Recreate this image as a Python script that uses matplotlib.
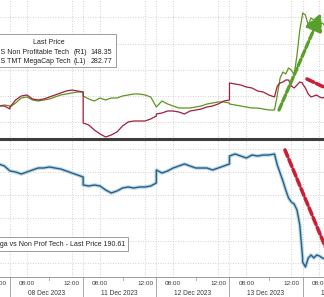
import matplotlib
matplotlib.use('Agg')
import matplotlib.pyplot as plt
from matplotlib.lines import Line2D
from matplotlib.patches import Rectangle, FancyArrowPatch

plt.rcParams['font.family'] = ['Liberation Sans', 'DejaVu Sans']

# sessions on the axis (07 Dec and 14 Dec only partly in view)
day_labels = ['07 Dec 2023', '08 Dec 2023', '11 Dec 2023', '12 Dec 2023',
              '13 Dec 2023', '14 Dec 2023']
half_hours = ['06:30', '07:00', '07:30', '08:00', '08:30', '09:00', '09:30',
              '10:00', '10:30', '11:00', '11:30', '12:00', '12:30', '13:00']
fed_quarters = ['10:45', '11:00', '11:15', '11:30', '11:45', '12:00',
                '12:15', '12:30', '12:45', '13:00']
open_quarters = ['06:30', '06:45', '07:00', '07:15', '07:30', '07:45',
                 '08:00', '08:15', '08:30']

stamps = ([(0, t) for t in ['12:00', '12:30', '13:00']]
          + [(1, t) for t in half_hours]
          + [(2, t) for t in half_hours]
          + [(3, t) for t in half_hours]
          + [(4, t) for t in half_hours[:9]] + [(4, t) for t in fed_quarters]
          + [(5, t) for t in open_quarters])

# GS TMT MegaCap Tech (L1)
megacap = [281.4, 281.4, 281.1,
           281.3, 282.0, 282.4, 282.5, 282.1, 282.0, 282.1, 282.3, 282.5, 282.7, 282.9, 283.0, 282.9, 282.8,
           279.7, 279.5, 279.0, 278.6, 278.3, 278.5, 278.8, 279.4, 279.8, 279.9, 279.9, 279.9, 280.1, 280.4,
           280.6, 280.7, 280.9, 280.9, 280.8, 280.6, 280.9, 281.0, 281.1, 281.3, 281.4, 281.6, 281.9, 282.0,
           283.7, 283.6, 283.5, 283.3, 283.2, 282.9, 282.8, 282.5, 282.3,
           283.4, 283.7, 283.8, 284.0, 284.0, 283.4, 283.2, 283.5, 283.8, 283.7,
           283.6, 283.2, 282.6, 282.3, 282.4, 282.5, 282.3, 282.2, 282.3]

# GS Non Profitable Tech (R1)
nonprof = [140.4, 140.5, 140.4,
           140.3, 140.7, 141.2, 141.3, 141.0, 140.9, 141.0, 141.1, 141.3, 141.5, 141.6, 141.7, 141.8, 141.8,
           141.4, 141.1, 140.9, 141.2, 141.0, 141.2, 141.2, 141.4, 141.5, 141.6, 141.6, 141.5, 141.3, 140.3,
           140.3, 140.9, 140.6, 140.4, 140.2, 140.2, 140.2, 140.3, 140.4, 140.6, 140.7, 140.8, 140.8, 140.7,
           140.6, 140.5, 140.4, 140.3, 140.2, 140.2, 140.1, 140.0, 140.0,
           141.5, 143.2, 143.8, 143.6, 144.2, 144.0, 143.5, 145.5, 148.0, 149.6,
           149.7, 149.5, 148.5, 149.2, 149.0, 148.8, 148.6, 148.7, 148.4]

# MegaCap vs Non Prof Tech ratio
ratio = [200.1, 199.9, 199.4,
         199.4, 199.3, 199.1, 199.3, 199.5, 199.7, 199.7, 199.8, 199.7, 199.6, 199.4, 199.2, 199.0, 198.8,
         198.0, 197.9, 198.0, 197.9, 197.5, 197.2, 197.4, 197.7, 197.8, 197.7, 197.8, 197.8, 197.9, 198.2,
         199.5, 199.2, 199.4, 199.7, 199.9, 200.1, 199.9, 199.7, 199.7, 199.7, 199.5, 199.7, 199.9, 200.1,
         200.9, 201.1, 200.9, 200.7, 201.0, 200.9, 201.0, 201.0, 201.1,
         200.0, 199.2, 198.4, 197.5, 196.7, 196.3, 196.1, 195.5, 194.0, 190.7,
         190.3, 189.8, 190.7, 191.0, 190.7, 191.0, 190.9, 190.7, 190.6]

SESSION = 6.5  # hours per session, 06:30 - 13:00
XLIM = (5.61, 34.40)


def sess_x(day, hhmm):
    h, m = hhmm.split(':')
    return day * SESSION + int(h) + int(m) / 60 - 6.5


x = [sess_x(d, t) for d, t in stamps]

W, H = 324, 297
fx = lambda px: px / W
fy = lambda py: 1 - py / H

fig = plt.figure(figsize=(W / 100, H / 100), dpi=100)
ax_top = fig.add_axes([0, fy(139), 1, 139 / H])
ax_bot = fig.add_axes([0, fy(277), 1, 138 / H])

vgrid = []
for d in range(6):
    vgrid += [sess_x(d, '06:30'), sess_x(d, '08:00'), sess_x(d, '12:00')]
vgrid = [v for v in vgrid if XLIM[0] <= v <= XLIM[1]]

for ax in (ax_top, ax_bot):
    ax.set_xticks(vgrid)
    ax.set_xlim(*XLIM)
    ax.grid(True, color='#c2c2c2', linestyle=(0, (1, 2)), lw=0.6)
    ax.tick_params(length=0, labelbottom=False, labelleft=False)
    for s in ax.spines.values():
        s.set_visible(False)

# top panel: two prices on own scales
ax_top.set_yticks([149.3, 146.6, 144.0, 141.4, 138.8])
ax_top.set_ylim(137.1, 151)
ax_top.plot(x, nonprof, color='#5f9420', lw=0.9)
ax_red = ax_top.twinx()
ax_red.plot(x, megacap, color='#a31d3c', lw=0.9)
ax_red.set_ylim(278.1, 292)
ax_red.set_xlim(*XLIM)
ax_red.axis('off')

# bottom panel: ratio
ax_bot.set_yticks([201.6, 199.3, 197.0, 194.7, 192.4, 190.2])
ax_bot.set_ylim(188.8, 202.6)
ax_bot.plot(x, ratio, color='#b8d8ec', lw=2.6, solid_capstyle='round')
ax_bot.plot(x, ratio, color='#2b5f80', lw=1.0)
ax_bot.set_xlim(*XLIM)
ax_bot.spines['bottom'].set_visible(True)
ax_bot.spines['bottom'].set_color('#9a9a9a')
ax_bot.spines['bottom'].set_linewidth(0.7)

xt = ax_bot.get_xaxis_transform()
for d in range(6):
    for t in ['08:00', '12:00']:
        ax_bot.text(sess_x(d, t), -0.045, t, transform=xt, ha='center', va='center',
                    fontsize=4.6, color='#3a3a3a')
    ax_bot.text(d * SESSION + SESSION / 2, -0.118, day_labels[d], transform=xt,
                ha='center', va='center', fontsize=4.8, color='#3a3a3a')
    ax_bot.plot([sess_x(d, '10:00')] * 2, [0, -0.022], transform=xt,
                color='#a0a0a0', lw=0.6, clip_on=False)
    if d > 0:
        ax_bot.plot([d * SESSION] * 2, [0, -0.16], transform=xt,
                    color='#a8a8a8', lw=0.7, clip_on=False)
ax_bot.set_xlim(*XLIM)

# thick panel separator
fig.add_artist(Line2D([0, 1], [fy(139), fy(139)], transform=fig.transFigure,
                      color='#3d3d3d', lw=2.2, zorder=3))

# legend boxes
fig.add_artist(Rectangle((fx(-4), fy(67)), 120 / W, 33 / H, transform=fig.transFigure,
                         fc='white', ec='#9c9c9c', lw=0.7, zorder=5))
fig.text(fx(49), fy(43), 'Last Price', ha='center', va='center', fontsize=5.0,
         color='#222222', zorder=6)
rows = [('GS Non Profitable Tech', '(R1)', '148.35', 52),
        ('GS TMT MegaCap Tech', '(L1)', '282.77', 61)]
for name, tag, val, py in rows:
    fig.text(fx(-5.4), fy(py), name, ha='left', va='center', fontsize=5.0, color='#222222', zorder=6)
    fig.text(fx(73.5), fy(py), tag, ha='left', va='center', fontsize=5.0, color='#222222', zorder=6)
    fig.text(fx(112), fy(py), val, ha='right', va='center', fontsize=5.0, color='#222222', zorder=6)

fig.add_artist(Rectangle((fx(-4), fy(251)), 132 / W, 14 / H, transform=fig.transFigure,
                         fc='white', ec='#9c9c9c', lw=0.7, zorder=5))
fig.text(fx(-9.7), fy(244), 'Mega vs Non Prof Tech - Last Price 190.61', ha='left',
         va='center', fontsize=5.0, color='#222222', zorder=6)

# dashed trend arrows
fig.add_artist(FancyArrowPatch((fx(279), fy(110)), (fx(321), fy(13)), transform=fig.transFigure,
                               arrowstyle='-|>,head_length=10,head_width=5', mutation_scale=1,
                               shrinkA=0, shrinkB=0, lw=2.4, linestyle=(0, (2, 0.9)),
                               color='#58a02b', zorder=4))
fig.add_artist(FancyArrowPatch((fx(307), fy(79)), (fx(332), fy(91)), transform=fig.transFigure,
                               arrowstyle='-', shrinkA=0, shrinkB=0, lw=2.6,
                               linestyle=(0, (2, 0.9)), color='#cc1f36', zorder=4))
fig.add_artist(FancyArrowPatch((fx(285), fy(150)), (fx(330), fy(258)), transform=fig.transFigure,
                               arrowstyle='-', shrinkA=0, shrinkB=0, lw=2.6,
                               linestyle=(0, (2, 0.9)), color='#cc1f36', zorder=4))

fig.savefig('out.png', dpi=100)
